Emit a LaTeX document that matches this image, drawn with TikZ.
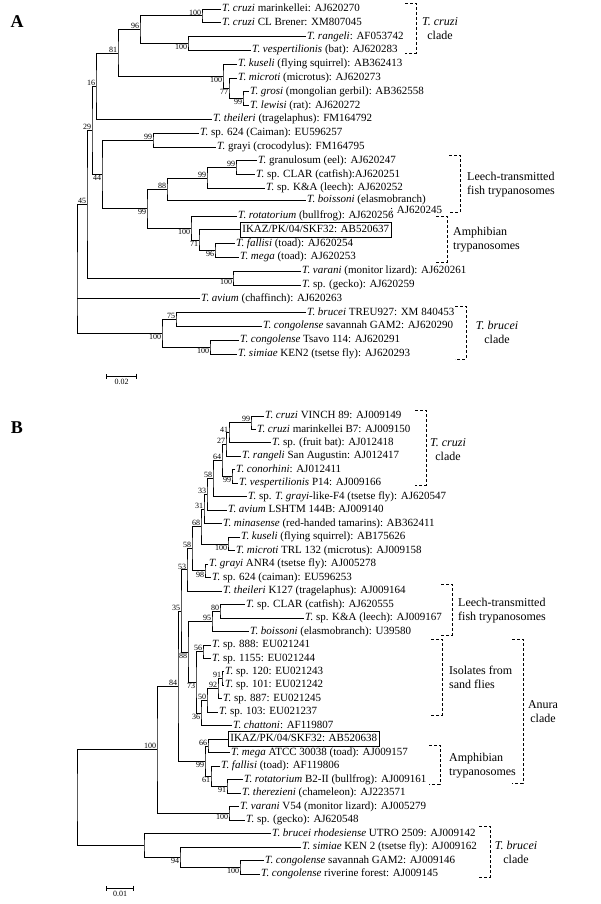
\documentclass[tikz,border=0pt]{standalone}
\usepackage{fontspec}
\setmainfont{Liberation Serif}
\usetikzlibrary{arrows.meta,positioning}

\newcommand{\leafsize}{\fontsize{11}{13}\selectfont}
\newcommand{\cladesize}{\fontsize{12}{14}\selectfont}
\newcommand{\bootsize}{\fontsize{8}{9}\selectfont}

\begin{document}
\begin{tikzpicture}[x=1pt, y=-1pt,
  branch/.style={line width=0.9pt},
  leaf/.style={anchor=west, inner sep=1pt, text height=7pt, text depth=2pt, font=\leafsize},
  leafbox/.style={leaf, draw, line width=0.7pt, inner xsep=2pt, inner ysep=3pt},
  bootup/.style={anchor=south east, inner sep=0.6pt, font=\bootsize},
  bootdown/.style={anchor=north east, inner sep=0.6pt, font=\bootsize},
  bracket/.style={line width=0.9pt, dash pattern=on 3pt off 2pt},
  cladetext/.style={font=\cladesize, align=center, inner sep=0pt},
  cladeleft/.style={font=\cladesize, align=left, anchor=west, inner sep=0pt},
  scalebar/.style={line width=0.8pt, {Bar[width=5pt]}-{Bar[width=5pt]}},
  panel/.style={font=\fontsize{18}{18}\selectfont\bfseries, inner sep=0pt}
]
\useasboundingbox (0,0) rectangle (600,904);

% ---------------- panel A ----------------
\node[panel] (pA) at (17,22) {A};

\node[leaf] (a1) at (221,9) {\textit{T. cruzi} marinkellei: AJ620270};
\node[leaf] (a2) at (221,22.8) {\textit{T. cruzi} CL Brener: XM807045};
\node[leaf] (a3) at (306,36.6) {\textit{T. rangeli}: AF053742};
\node[leaf] (a4) at (251,50.4) {\textit{T. vespertilionis} (bat): AJ620283};
\node[leaf] (a5) at (237,64.2) {\textit{T. kuseli} (flying squirrel): AB362413};
\node[leaf] (a6) at (237,78) {\textit{T. microti} (microtus): AJ620273};
\node[leaf] (a7) at (249,91.8) {\textit{T. grosi} (mongolian gerbil): AB362558};
\node[leaf] (a8) at (249,105.6) {\textit{T. lewisi} (rat): AJ620272};
\node[leaf] (a9) at (212,119.4) {\textit{T. theileri} (tragelaphus): FM164792};
\node[leaf] (a10) at (199,133.2) {\textit{T.} sp. 624 (Caiman): EU596257};
\node[leaf] (a11) at (216,147) {\textit{T.} grayi (crocodylus): FM164795};
\node[leaf] (a12) at (257,160.8) {\textit{T.} granulosum (eel): AJ620247};
\node[leaf] (a13) at (255,174.6) {\textit{T.} sp. CLAR (catfish):AJ620251};
\node[leaf] (a14) at (265,188.4) {\textit{T.} sp. K\&A (leech): AJ620252};
\node[leaf] (a15) at (306,200) {\textit{T. boissoni} (elasmobranch)};
\node[leaf] (a15b) at (389,211) {: AJ620245};
\node[leaf] (a16) at (237,216) {\textit{T. rotatorium} (bullfrog): AJ620256};
\node[leafbox] (a17) at (240,229.8) {IKAZ/PK/04/SKF32: AB520637};
\node[leaf] (a18) at (235,243.6) {\textit{T. fallisi} (toad): AJ620254};
\node[leaf] (a19) at (239,257.4) {\textit{T. mega} (toad): AJ620253};
\node[leaf] (a20) at (301,271.2) {\textit{T. varani} (monitor lizard): AJ620261};
\node[leaf] (a21) at (301,285) {\textit{T.} sp. (gecko): AJ620259};
\node[leaf] (a22) at (200,298.8) {\textit{T. avium} (chaffinch): AJ620263};
\node[leaf] (a23) at (306,312.6) {\textit{T. brucei} TREU927: XM 840453};
\node[leaf] (a24) at (262,326.4) {\textit{T. congolense} savannah GAM2: AJ620290};
\node[leaf] (a25) at (239,340.2) {\textit{T. congolense} Tsavo 114: AJ620291};
\node[leaf] (a26) at (237,354) {\textit{T. simiae} KEN2 (tsetse fly): AJ620293};

\coordinate (iaCruzi) at (202,15.9);
\coordinate (iaRang) at (188,43.5);
\coordinate (iaCR) at (140,29.7);
\coordinate (iaGL) at (243,98.7);
\coordinate (iaMic) at (229,88.35);
\coordinate (iaKus) at (223,76.3);
\coordinate (iaRod) at (118,53);
\coordinate (iaThe) at (96,86.2);
\coordinate (iaCroc) at (153,140.1);
\coordinate (iaGC) at (236,167.7);
\coordinate (iaKA) at (207,178.05);
\coordinate (iaFish) at (167,189);
\coordinate (iaFM) at (215,250.5);
\coordinate (iaIK) at (199,240.15);
\coordinate (iaAmph) at (191,228.1);
\coordinate (iaFA) at (147,208.55);
\coordinate (iaCFA) at (102,174.3);
\coordinate (iaMid) at (92,130.25);
\coordinate (iaLiz) at (233,278.1);
\coordinate (iaBig) at (87,204.2);
\coordinate (iaBrT) at (176,319.5);
\coordinate (iaCon) at (210,347.1);
\coordinate (iaBru) at (162,333.3);
\coordinate (iaRoot) at (77,298.8);

\draw[branch] (a1) -| (iaCruzi) |- (a2);
\draw[branch] (a3) -| (iaRang) |- (a4);
\draw[branch] (iaCruzi) -| (iaCR) |- (iaRang);
\draw[branch] (a7) -| (iaGL) |- (a8);
\draw[branch] (a6) -| (iaMic) |- (iaGL);
\draw[branch] (a5) -| (iaKus) |- (iaMic);
\draw[branch] (iaCR) -| (iaRod) |- (iaKus);
\draw[branch] (iaRod) -| (iaThe) |- (a9);
\draw[branch] (a10) -| (iaCroc) |- (a11);
\draw[branch] (a12) -| (iaGC) |- (a13);
\draw[branch] (iaGC) -| (iaKA) |- (a14);
\draw[branch] (iaKA) -| (iaFish) |- (a15);
\draw[branch] (a18) -| (iaFM) |- (a19);
\draw[branch] (a17) -| (iaIK) |- (iaFM);
\draw[branch] (a16) -| (iaAmph) |- (iaIK);
\draw[branch] (iaFish) -| (iaFA) |- (iaAmph);
\draw[branch] (iaCroc) -| (iaCFA) |- (iaFA);
\draw[branch] (iaThe) -| (iaMid) |- (iaCFA);
\draw[branch] (a20) -| (iaLiz) |- (a21);
\draw[branch] (iaMid) -| (iaBig) |- (iaLiz);
\draw[branch] (a23) -| (iaBrT) |- (a24);
\draw[branch] (a25) -| (iaCon) |- (a26);
\draw[branch] (iaBrT) -| (iaBru) |- (iaCon);
\draw[branch] (iaBig) -| (iaRoot) |- (iaBru);
\draw[branch] (iaRoot) -- (a22);

\foreach \n/\v in {iaCruzi/100, iaCR/96, iaRod/81, iaThe/16, iaCroc/99, iaGC/99,
  iaKA/99, iaFish/88, iaMid/29, iaBig/45, iaBrT/75}
  \node[bootup] (l-\n) at (\n) {\v};
\foreach \n/\v in {iaRang/100, iaGL/99, iaMic/77, iaKus/100, iaFM/96, iaIK/71,
  iaAmph/100, iaFA/99, iaCFA/44, iaLiz/100, iaCon/100, iaBru/100}
  \node[bootdown] (l-\n) at (\n) {\v};

% clade brackets A
\coordinate (brCruzA) at (416,3);
\draw[bracket] ([xshift=-11pt]brCruzA) -- (brCruzA) -- (416,53) -- (405,53);
\node[cladetext] (tCruzA) at (440,29) {\textit{T. cruzi}\\clade};
\coordinate (brLeechA) at (460,155);
\draw[bracket] ([xshift=-11pt]brLeechA) -- (brLeechA) -- (460,212) -- (449,212);
\node[cladeleft] (tLeechA) at (467,185) {Leech-transmitted\\fish trypanosomes};
\coordinate (brAmphA) at (447,216);
\draw[bracket] ([xshift=-11pt]brAmphA) -- (brAmphA) -- (447,262) -- (436,262);
\node[cladeleft] (tAmphA) at (453,240) {Amphibian\\trypanosomes};
\coordinate (brBruA) at (466,306);
\draw[bracket] ([xshift=-11pt]brBruA) -- (brBruA) -- (466,359) -- (455,359);
\node[cladetext] (tBruA) at (497,332.5) {\textit{T. brucei}\\clade};

\coordinate (sbA1) at (106,376);
\coordinate (sbA2) at (137,376);
\draw[scalebar] (sbA1) -- node[below=3pt, font=\bootsize, inner sep=0pt] (sbAl) {0.02} (sbA2);

% ---------------- panel B ----------------
\node[panel] (pB) at (17,428) {B};

\node[leaf] (b1) at (264,416) {\textit{T. cruzi} VINCH 89: AJ009149};
\node[leaf] (b2) at (256,429.5) {\textit{T. cruzi} marinkellei B7: AJ009150};
\node[leaf] (b3) at (271,442.9) {\textit{T.} sp. (fruit bat): AJ012418};
\node[leaf] (b4) at (241,456.4) {\textit{T. rangeli} San Augustin: AJ012417};
\node[leaf] (b5) at (235,469.9) {\textit{T. conorhini}: AJ012411};
\node[leaf] (b6) at (238,483.4) {\textit{T. vespertilionis} P14: AJ009166};
\node[leaf] (b7) at (247,496.8) {\textit{T.} sp. \textit{T. grayi}-like-F4 (tsetse fly): AJ620547};
\node[leaf] (b8) at (227,510.3) {\textit{T. avium} LSHTM 144B: AJ009140};
\node[leaf] (b9) at (222,523.8) {\textit{T. minasense} (red-handed tamarins): AB362411};
\node[leaf] (b10) at (240,537.2) {\textit{T. kuseli} (flying squirrel): AB175626};
\node[leaf] (b11) at (235,550.7) {\textit{T. microti} TRL 132 (microtus): AJ009158};
\node[leaf] (b12) at (208,564.2) {\textit{T. grayi} ANR4 (tsetse fly): AJ005278};
\node[leaf] (b13) at (211,577.6) {\textit{T.} sp. 624 (caiman): EU596253};
\node[leaf] (b14) at (222,591.1) {\textit{T. theileri} K127 (tragelaphus): AJ009164};
\node[leaf] (b15) at (245,604.6) {\textit{T.} sp. CLAR (catfish): AJ620555};
\node[leaf] (b16) at (304,618) {\textit{T.} sp. K\&A (leech): AJ009167};
\node[leaf] (b17) at (249,631.5) {\textit{T. boissoni} (elasmobranch): U39580};
\node[leaf] (b18) at (211,645) {\textit{T.} sp. 888: EU021241};
\node[leaf] (b19) at (211,658.5) {\textit{T.} sp. 1155: EU021244};
\node[leaf] (b20) at (224,671.9) {\textit{T.} sp. 120: EU021243};
\node[leaf] (b21) at (224,685.4) {\textit{T.} sp. 101: EU021242};
\node[leaf] (b22) at (222,698.9) {\textit{T.} sp. 887: EU021245};
\node[leaf] (b23) at (218,712.3) {\textit{T.} sp. 103: EU021237};
\node[leaf] (b24) at (232,725.8) {\textit{T. chattoni}: AF119807};
\node[leafbox] (b25) at (228,739.3) {IKAZ/PK/04/SKF32: AB520638};
\node[leaf] (b26) at (230,752.8) {\textit{T. mega} ATCC 30038 (toad): AJ009157};
\node[leaf] (b27) at (220,766.2) {\textit{T. fallisi} (toad): AF119806};
\node[leaf] (b28) at (243,779.7) {\textit{T. rotatorium} B2-II (bullfrog): AJ009161};
\node[leaf] (b29) at (241,793.2) {\textit{T. therezieni} (chameleon): AJ223571};
\node[leaf] (b30) at (239,806.6) {\textit{T. varani} V54 (monitor lizard): AJ005279};
\node[leaf] (b31) at (245,820.1) {\textit{T.} sp. (gecko): AJ620548};
\node[leaf] (b32) at (271,833.6) {\textit{T. brucei rhodesiense} UTRO 2509: AJ009142};
\node[leaf] (b33) at (301,847) {\textit{T. simiae} KEN 2 (tsetse fly): AJ009162};
\node[leaf] (b34) at (264,860.5) {\textit{T. congolense} savannah GAM2: AJ009146};
\node[leaf] (b35) at (260,874) {\textit{T. congolense} riverine forest: AJ009145};

\coordinate (ibCruzi) at (251,422.7);
\coordinate (ibBat) at (229,432.8);
\coordinate (ibRang) at (226,444.6);
\coordinate (ibVesp) at (232,476.6);
\coordinate (ibCon) at (222,460.6);
\coordinate (ibGray) at (213,478.7);
\coordinate (ibAv) at (207,494.5);
\coordinate (ibMin) at (204,509.1);
\coordinate (ibKus) at (228,544);
\coordinate (ibRod) at (201,526.5);
\coordinate (ibCroc) at (205,570.9);
\coordinate (ibMam) at (192,548.7);
\coordinate (ibThe) at (187,569.9);
\coordinate (ibCK) at (220,611.3);
\coordinate (ibFish) at (212,621.4);
\coordinate (ibS56) at (203,651.7);
\coordinate (ibS91) at (222,678.7);
\coordinate (ibS92) at (218,688.8);
\coordinate (ibS50) at (207,700.6);
\coordinate (ibCha) at (201,713.2);
\coordinate (ibSand) at (196,682.5);
\coordinate (ibFS) at (188,652);
\coordinate (ibMid) at (181,611);
\coordinate (ibIK) at (208,746);
\coordinate (ibRT) at (227,786.4);
\coordinate (ibFal) at (211,776.3);
\coordinate (ibAmph) at (205,761.2);
\coordinate (ibAll) at (178,686.1);
\coordinate (ibLiz) at (229,813.4);
\coordinate (ibBig) at (157,749.7);
\coordinate (ibGam) at (240,867.3);
\coordinate (ibSim) at (180,857.2);
\coordinate (ibBru) at (144,845.4);
\coordinate (ibRoot) at (77,797.5);

\draw[branch] (b1) -| (ibCruzi) |- (b2);
\draw[branch] (ibCruzi) -| (ibBat) |- (b3);
\draw[branch] (ibBat) -| (ibRang) |- (b4);
\draw[branch] (b5) -| (ibVesp) |- (b6);
\draw[branch] (ibRang) -| (ibCon) |- (ibVesp);
\draw[branch] (ibCon) -| (ibGray) |- (b7);
\draw[branch] (ibGray) -| (ibAv) |- (b8);
\draw[branch] (ibAv) -| (ibMin) |- (b9);
\draw[branch] (b10) -| (ibKus) |- (b11);
\draw[branch] (ibMin) -| (ibRod) |- (ibKus);
\draw[branch] (b12) -| (ibCroc) |- (b13);
\draw[branch] (ibRod) -| (ibMam) |- (ibCroc);
\draw[branch] (ibMam) -| (ibThe) |- (b14);
\draw[branch] (b15) -| (ibCK) |- (b16);
\draw[branch] (ibCK) -| (ibFish) |- (b17);
\draw[branch] (b18) -| (ibS56) |- (b19);
\draw[branch] (b20) -| (ibS91) |- (b21);
\draw[branch] (ibS91) -| (ibS92) |- (b22);
\draw[branch] (ibS92) -| (ibS50) |- (b23);
\draw[branch] (ibS50) -| (ibCha) |- (b24);
\draw[branch] (ibS56) -| (ibSand) |- (ibCha);
\draw[branch] (ibFish) -| (ibFS) |- (ibSand);
\draw[branch] (ibThe) -| (ibMid) |- (ibFS);
\draw[branch] (b25) -| (ibIK) |- (b26);
\draw[branch] (b28) -| (ibRT) |- (b29);
\draw[branch] (b27) -| (ibFal) |- (ibRT);
\draw[branch] (ibIK) -| (ibAmph) |- (ibFal);
\draw[branch] (ibMid) -| (ibAll) |- (ibAmph);
\draw[branch] (b30) -| (ibLiz) |- (b31);
\draw[branch] (ibAll) -| (ibBig) |- (ibLiz);
\draw[branch] (b34) -| (ibGam) |- (b35);
\draw[branch] (b33) -| (ibSim) |- (ibGam);
\draw[branch] (b32) -| (ibBru) |- (ibSim);
\draw[branch] (ibBig) -| (ibRoot) |- (ibBru);

\foreach \n/\v in {ibCruzi/99, ibBat/41, ibRang/27, ibCon/64, ibGray/58, ibAv/33,
  ibMin/31, ibRod/68, ibMam/58, ibThe/53, ibCK/80, ibFish/95, ibS56/56, ibS91/91,
  ibS92/92, ibS50/50, ibMid/35, ibIK/66, ibAll/84, ibBig/100}
  \node[bootup] (l-\n) at (\n) {\v};
\foreach \n/\v in {ibVesp/99, ibKus/100, ibCroc/98, ibCha/36, ibSand/73, ibFS/88,
  ibRT/91, ibFal/61, ibAmph/99, ibLiz/100, ibGam/100, ibSim/94}
  \node[bootdown] (l-\n) at (\n) {\v};

% clade brackets B
\coordinate (brCruzB) at (426,410);
\draw[bracket] ([xshift=-11pt]brCruzB) -- (brCruzB) -- (426,485) -- (415,485);
\node[cladetext] (tCruzB) at (448,449.5) {\textit{T. cruzi}\\clade};
\coordinate (brLeechB) at (452,584);
\draw[bracket] ([xshift=-11pt]brLeechB) -- (brLeechB) -- (452,635) -- (441,635);
\node[cladeleft] (tLeechB) at (458,610.5) {Leech-transmitted\\fish trypanosomes};
\coordinate (brSandB) at (442,639);
\draw[bracket] ([xshift=-11pt]brSandB) -- (brSandB) -- (442,715) -- (431,715);
\node[cladeleft] (tSandB) at (449,677.5) {Isolates from\\sand flies};
\coordinate (brAnuB) at (523,639);
\draw[bracket] ([xshift=-11pt]brAnuB) -- (brAnuB) -- (523,783) -- (512,783);
\node[cladetext] (tAnuB) at (543,712) {Anura\\clade};
\coordinate (brAmphB) at (440,745);
\draw[bracket] ([xshift=-11pt]brAmphB) -- (brAmphB) -- (440,784) -- (429,784);
\node[cladeleft] (tAmphB) at (449,765.5) {Amphibian\\trypanosomes};
\coordinate (brBruB) at (490,826);
\draw[bracket] ([xshift=-11pt]brBruB) -- (brBruB) -- (490,877) -- (479,877);
\node[cladetext] (tBruB) at (516,852) {\textit{T. brucei}\\clade};

\coordinate (sbB1) at (106,888);
\coordinate (sbB2) at (134,888);
\draw[scalebar] (sbB1) -- node[below=3pt, font=\bootsize, inner sep=0pt] (sbBl) {0.01} (sbB2);
\end{tikzpicture}
\end{document}
